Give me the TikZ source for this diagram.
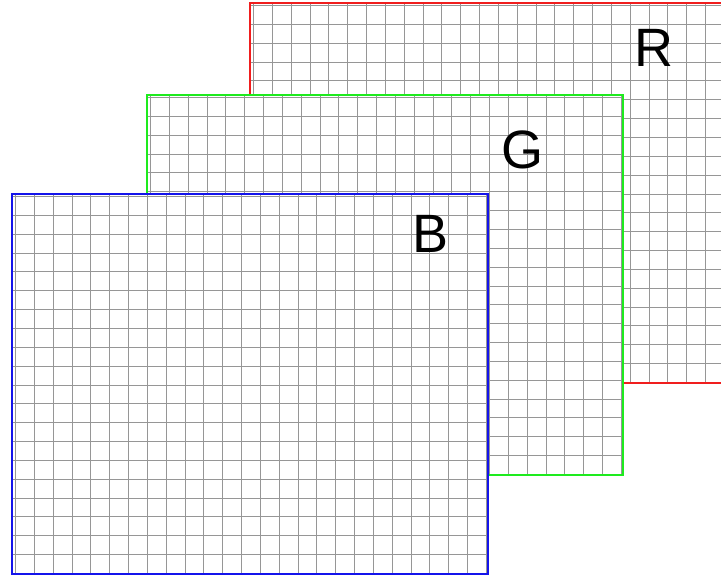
\documentclass[tikz,border=0pt]{standalone}
\usepackage{fontspec}
\setmainfont{Liberation Sans}
\definecolor{planered}{RGB}{240,30,30}
\definecolor{planegreen}{RGB}{30,235,30}
\definecolor{planeblue}{RGB}{20,20,235}
\definecolor{gridgray}{RGB}{150,150,150}
\tikzset{
  gridline/.style={draw=gridgray, line width=1pt},
  planeedge/.style={line width=2pt},
  planelabel/.style={font=\fontsize{54}{58}\selectfont, inner sep=0pt, text=black}
}
\begin{document}
\begin{tikzpicture}[x=1pt,y=-1pt]
  \useasboundingbox (0,0) rectangle (721,583);
  \clip (0,0) rectangle (721,583);
  \fill[white] (0,0) rectangle (721,583);
  % Colour planes, back to front
  \foreach \px/\py/\pc/\pl/\lx/\ly in {250/3/planered/R/404/45, 147/95/planegreen/G/375/55, 12/194/planeblue/B/419/40} {
    \fill[white] (\px,\py) rectangle ++(476,380);
    \foreach \i in {0,...,25}
      \draw[gridline] ({\px+3.5+round(18.84*\i)},\py) -- ++(0,380);
    \foreach \j in {0,...,20}
      \draw[gridline] (\px,{\py+2.5+round(18.85*\j)}) -- ++(476,0);
    \draw[planeedge, draw=\pc] (\px,\py) rectangle ++(476,380);
    \node[planelabel] (lbl\pl) at (\px+\lx,\py+\ly) {\pl};
  }
\end{tikzpicture}
\end{document}
